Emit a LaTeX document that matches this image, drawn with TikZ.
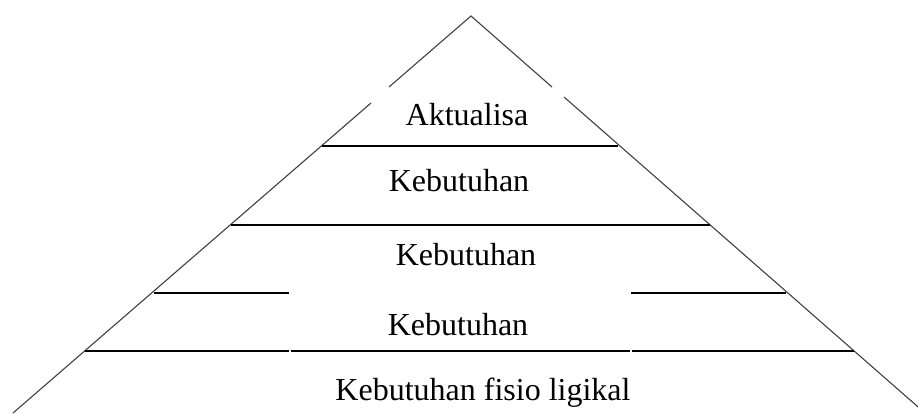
\documentclass[tikz,border=0pt]{standalone}
\usepackage{fontspec}
\setmainfont{Liberation Serif}
\begin{document}
\begin{tikzpicture}[x=1pt,y=-1pt,
  edge/.style={draw=black!75,line width=1.1pt},
  level/.style={draw=black,line width=1.5pt},
  lbl/.style={anchor=base,inner sep=0pt,font=\fontsize{32}{38}\selectfont}]
\useasboundingbox (0,0) rectangle (918,413);
% outline
\coordinate (apex) at (471,16);
\coordinate (lgapA) at (389,87);
\coordinate (lgapB) at (371,103);
\coordinate (lbase) at (13,413);
\coordinate (rgapA) at (552,87);
\coordinate (rgapB) at (564,97);
\coordinate (rbase) at (925,413);
\draw[edge] (lgapA) -- (apex) -- (rgapA);
\draw[edge] (lgapB) -- (lbase);
\draw[edge] (rgapB) -- (rbase);
% level lines
\coordinate (l1a) at (322,146); \coordinate (l1b) at (618,146);
\coordinate (l2a) at (231,225); \coordinate (l2b) at (710,225);
\coordinate (l3a) at (154,293); \coordinate (l3b) at (289,293);
\coordinate (l3c) at (631,293); \coordinate (l3d) at (786,293);
\coordinate (l4a) at (85,351);  \coordinate (l4b) at (288.5,351);
\coordinate (l4c) at (290.5,351); \coordinate (l4d) at (629.5,351);
\coordinate (l4e) at (631.5,351); \coordinate (l4f) at (854,351);
\draw[level] (l1a) -- (l1b);
\draw[level] (l2a) -- (l2b);
\draw[level] (l3a) -- (l3b);
\draw[level] (l3c) -- (l3d);
\draw[level] (l4a) -- (l4b);
\draw[level] (l4c) -- (l4d);
\draw[level] (l4e) -- (l4f);
% labels
\node[lbl] (t1) at (467,125) {Aktualisa};
\node[lbl] (t2) at (459,191) {Kebutuhan};
\node[lbl] (t3) at (466,265) {Kebutuhan};
\node[lbl] (t4) at (458,335) {Kebutuhan};
\node[lbl] (t5) at (483,400) {Kebutuhan fisio ligikal};
\end{tikzpicture}
\end{document}
